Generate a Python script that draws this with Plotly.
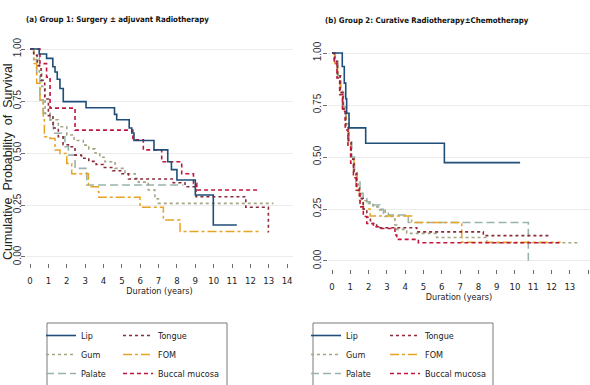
import plotly.graph_objects as go

W, H = 590, 385

# ---------------- data ----------------
series_names = ["Lip", "Tongue", "Gum", "FOM", "Palate", "Buccal mucosa"]

# Group 1 (left panel): step times (years) and survival after each step
g1_lip_t = [0, 0.5, 0.9, 1.24, 1.36, 1.48, 1.63, 1.81, 3.05, 4.6, 4.72, 5.4, 5.54, 5.66, 6.75, 7.5, 7.7, 8.0, 9.0, 9.98, 11.26]
g1_lip_s = [1.0, 0.976, 0.955, 0.915, 0.89, 0.855, 0.81, 0.747, 0.718, 0.686, 0.66, 0.62, 0.596, 0.56, 0.515, 0.458, 0.42, 0.37, 0.298, 0.154, 0.154]

g1_tongue_t = [0, 0.2, 0.4, 0.6, 0.8, 1.0, 1.25, 1.54, 1.8, 2.09, 2.45, 2.8, 3.2, 3.6, 4.0, 4.5, 5.0, 5.36, 7.8, 8.44, 9.04, 11.75, 12.98, 13.0]
g1_tongue_s = [1.0, 0.97, 0.92, 0.85, 0.76, 0.68, 0.62, 0.578, 0.54, 0.53, 0.49, 0.475, 0.46, 0.445, 0.43, 0.415, 0.40, 0.375, 0.357, 0.338, 0.29, 0.239, 0.12, 0.12]

g1_gum_t = [0, 0.2, 0.36, 0.5, 0.64, 0.82, 1.1, 1.54, 2.0, 2.4, 2.9, 3.2, 3.54, 3.8, 4.08, 4.63, 5.17, 5.72, 5.9, 6.44, 6.8, 6.99, 13.25]
g1_gum_s = [1.0, 0.98, 0.955, 0.89, 0.82, 0.69, 0.66, 0.626, 0.587, 0.56, 0.538, 0.52, 0.50, 0.48, 0.458, 0.426, 0.40, 0.378, 0.36, 0.322, 0.28, 0.258, 0.258]

g1_fom_t = [0, 0.2, 0.36, 0.54, 0.72, 0.78, 1.09, 1.36, 1.63, 2.0, 2.27, 3.18, 3.72, 3.75, 5.99, 7.26, 8.17, 12.53]
g1_fom_s = [1.0, 0.93, 0.835, 0.755, 0.66, 0.578, 0.57, 0.514, 0.498, 0.45, 0.40, 0.338, 0.314, 0.287, 0.239, 0.178, 0.122, 0.122]

g1_palate_t = [0, 0.2, 0.36, 0.54, 0.72, 1.09, 1.27, 1.73, 1.9, 2.09, 2.45, 3.09, 8.35]
g1_palate_s = [1.0, 0.95, 0.88, 0.755, 0.69, 0.65, 0.595, 0.578, 0.53, 0.49, 0.426, 0.346, 0.346]

g1_buccal_t = [0, 0.54, 0.9, 1.09, 2.45, 5.6, 6.17, 7.17, 8.26, 8.9, 9.08, 12.43]
g1_buccal_s = [1.0, 0.93, 0.865, 0.716, 0.61, 0.563, 0.515, 0.458, 0.40, 0.354, 0.322, 0.322]

# Group 2 (right panel)
g2_lip_t = [0, 0.56, 0.67, 0.75, 0.80, 0.93, 1.84, 6.14, 10.28]
g2_lip_s = [1.0, 0.935, 0.855, 0.78, 0.71, 0.64, 0.566, 0.473, 0.473]

g2_tongue_t = [0, 0.15, 0.3, 0.45, 0.6, 0.75, 0.9, 1.05, 1.2, 1.35, 1.5, 1.7, 1.9, 2.1, 2.44, 4.63, 8.27, 11.92]
g2_tongue_s = [1.0, 0.96, 0.89, 0.81, 0.73, 0.65, 0.57, 0.49, 0.42, 0.35, 0.30, 0.25, 0.21, 0.18, 0.16, 0.14, 0.122, 0.122]

g2_gum_t = [0, 0.12, 0.27, 0.42, 0.57, 0.72, 0.87, 1.02, 1.17, 1.3, 1.44, 1.65, 1.9, 2.25, 2.62, 2.9, 3.44, 3.54, 4.08, 5.72, 8.46, 13.56]
g2_gum_s = [1.0, 0.96, 0.90, 0.82, 0.74, 0.66, 0.58, 0.50, 0.43, 0.37, 0.32, 0.29, 0.277, 0.26, 0.245, 0.214, 0.173, 0.152, 0.133, 0.113, 0.088, 0.088]

g2_fom_t = [0, 0.15, 0.3, 0.45, 0.6, 0.75, 0.9, 1.05, 1.2, 1.35, 1.5, 1.71, 2.08, 4.35, 7.09, 12.5]
g2_fom_s = [1.0, 0.95, 0.89, 0.81, 0.73, 0.65, 0.57, 0.49, 0.42, 0.35, 0.29, 0.25, 0.216, 0.185, 0.09, 0.09]

g2_palate_t = [0, 0.18, 0.33, 0.48, 0.63, 0.78, 0.93, 1.08, 1.23, 1.38, 1.53, 1.7, 1.9, 2.08, 2.62, 2.81, 3.08, 4.17, 10.73]
g2_palate_s = [1.0, 0.95, 0.89, 0.81, 0.73, 0.66, 0.58, 0.50, 0.44, 0.38, 0.325, 0.30, 0.285, 0.269, 0.248, 0.229, 0.221, 0.185, 0.0]

g2_buccal_t = [0, 0.12, 0.27, 0.42, 0.57, 0.72, 0.87, 1.02, 1.17, 1.32, 1.53, 1.71, 1.9, 2.26, 2.62, 3.44, 3.54, 4.72, 12.56]
g2_buccal_s = [1.0, 0.95, 0.88, 0.80, 0.72, 0.63, 0.55, 0.47, 0.40, 0.34, 0.26, 0.214, 0.18, 0.165, 0.156, 0.125, 0.104, 0.088, 0.088]

x_ticks = list(range(0, 15))
y_ticks = [0, 0.25, 0.5, 0.75, 1.0]
y_tick_text = ["0.00", "0.25", "0.50", "0.75", "1.00"]

panel_titles = ["(a) Group 1: Surgery ± adjuvant Radiotherapy",
                "(b) Group 2: Curative Radiotherapy±Chemotherapy"]
x_title = "Duration (years)"
y_title = "Cumulative  Probability  of  Survival"

# ---------------- styles ----------------
styles = {
    "Lip": dict(color="#1f4e79", dash="solid", width=1.6),
    "Tongue": dict(color="#8b2a3a", dash="dot", width=1.6),
    "Gum": dict(color="#a3a585", dash="dot", width=1.6),
    "FOM": dict(color="#e8a224", dash="dashdot", width=1.5),
    "Palate": dict(color="#98b2ad", dash="8px,4px", width=1.6),
    "Buccal mucosa": dict(color="#c0163d", dash="4px,3px", width=1.6),
}

COND = "DejaVu Sans Condensed, Liberation Sans, sans-serif"
SANS = "Liberation Sans, Arial, sans-serif"

g1 = {"Lip": (g1_lip_t, g1_lip_s), "Tongue": (g1_tongue_t, g1_tongue_s),
      "Gum": (g1_gum_t, g1_gum_s), "FOM": (g1_fom_t, g1_fom_s),
      "Palate": (g1_palate_t, g1_palate_s), "Buccal mucosa": (g1_buccal_t, g1_buccal_s)}
g2 = {"Lip": (g2_lip_t, g2_lip_s), "Tongue": (g2_tongue_t, g2_tongue_s),
      "Gum": (g2_gum_t, g2_gum_s), "FOM": (g2_fom_t, g2_fom_s),
      "Palate": (g2_palate_t, g2_palate_s), "Buccal mucosa": (g2_buccal_t, g2_buccal_s)}

col1 = ["Lip", "Gum", "Palate"]

fig = go.Figure()
draw_order = ["Palate", "Gum", "FOM", "Tongue", "Buccal mucosa", "Lip"]
legend_order = ["Lip", "Gum", "Palate", "Tongue", "FOM", "Buccal mucosa"]

for gi, (grp, xa, ya) in enumerate([(g1, "x", "y"), (g2, "x2", "y2")]):
    for name in legend_order:
        t, s = grp[name]
        st = styles[name]
        if gi == 0:
            lg = "legend" if name in col1 else "legend2"
        else:
            lg = "legend3" if name in col1 else "legend4"
        fig.add_trace(go.Scatter(
            x=t, y=s, mode="lines", name=name, line_shape="hv",
            line=dict(color=st["color"], dash=st["dash"], width=st["width"]),
            xaxis=xa, yaxis=ya, legend=lg, showlegend=True,
            legendrank=legend_order.index(name),
            zorder=draw_order.index(name),
        ))

def px_x(p):
    return p / W

def px_y(p):
    return 1 - p / H

axis_common = dict(showline=True, linecolor="#6d6d6d", linewidth=1.2, ticks="outside",
                   ticklen=4, tickcolor="#6d6d6d", zeroline=False, mirror=False)

xtick_font = dict(family=COND, size=9.5, color="#222")
xtitle_font = dict(family=COND, size=9, color="#222")
ytick_font = dict(family=SANS, size=10, color="#333")

fig.update_layout(
    width=W, height=H, margin=dict(l=0, r=0, t=0, b=0, autoexpand=False),
    paper_bgcolor="white", plot_bgcolor="white",
    xaxis=dict(domain=[px_x(26), px_x(293)], range=[-0.22, 14.32], anchor="y",
               tickvals=x_ticks, showgrid=False, tickfont=xtick_font, ticklabelstandoff=4,
               title=dict(text=x_title, font=xtitle_font, standoff=3),
               **axis_common),
    yaxis=dict(domain=[px_y(263), px_y(42)], range=[-0.029, 1.034], anchor="x",
               tickvals=y_ticks, ticktext=y_tick_text, tickangle=-90, ticklabelstandoff=-4,
               showgrid=True, gridcolor="#ececec", gridwidth=1, tickfont=ytick_font,
               **axis_common),
    xaxis2=dict(domain=[px_x(328), 1.0], range=[-0.22, 14.1], anchor="y2",
                tickvals=x_ticks, showgrid=False, tickfont=xtick_font, ticklabelstandoff=4,
                title=dict(text=x_title, font=xtitle_font, standoff=3),
                **axis_common),
    yaxis2=dict(domain=[px_y(269), px_y(46)], range=[-0.0385, 1.0337], anchor="x2",
                tickvals=y_ticks, ticktext=y_tick_text, tickangle=-90, ticklabelstandoff=-2,
                showgrid=True, gridcolor="#ececec", gridwidth=1, tickfont=ytick_font,
                **axis_common),
    showlegend=True,
)

leg_common = dict(orientation="v", xanchor="left", yanchor="top", bgcolor="rgba(0,0,0,0)",
                  borderwidth=0, font=dict(family=COND, size=9, color="#222"),
                  itemwidth=30, tracegroupgap=0, traceorder="normal")
fig.update_layout(
    legend=dict(x=px_x(41), y=px_y(321), **leg_common),
    legend2=dict(x=px_x(118), y=px_y(321), **leg_common),
    legend3=dict(x=px_x(306), y=px_y(321), **leg_common),
    legend4=dict(x=px_x(385), y=px_y(321), **leg_common),
)

for x0, x1 in [(47, 227), (313, 493)]:
    fig.add_shape(type="rect", xref="paper", yref="paper",
                  x0=px_x(x0), x1=px_x(x1), y0=px_y(392), y1=px_y(323),
                  line=dict(color="#7a7a7a", width=1), fillcolor="rgba(0,0,0,0)")

title_font = dict(family=COND, size=7.8, color="#111", weight="bold")
fig.add_annotation(text=panel_titles[0], xref="paper", yref="paper", x=px_x(24), y=px_y(19),
                   xanchor="left", yanchor="middle", showarrow=False, font=title_font)
fig.add_annotation(text=panel_titles[1], xref="paper", yref="paper", x=px_x(323), y=px_y(20),
                   xanchor="left", yanchor="middle", showarrow=False, font=title_font)
fig.add_annotation(text=y_title, xref="paper", yref="paper", x=px_x(8), y=px_y(162),
                   xanchor="center", yanchor="middle", showarrow=False, textangle=-90,
                   font=dict(family=SANS, size=12.5, color="#222"))

fig.write_html("out.html", config={"displayModeBar": False},
               post_script="document.body.style.margin='0';document.body.style.overflow='hidden';")
